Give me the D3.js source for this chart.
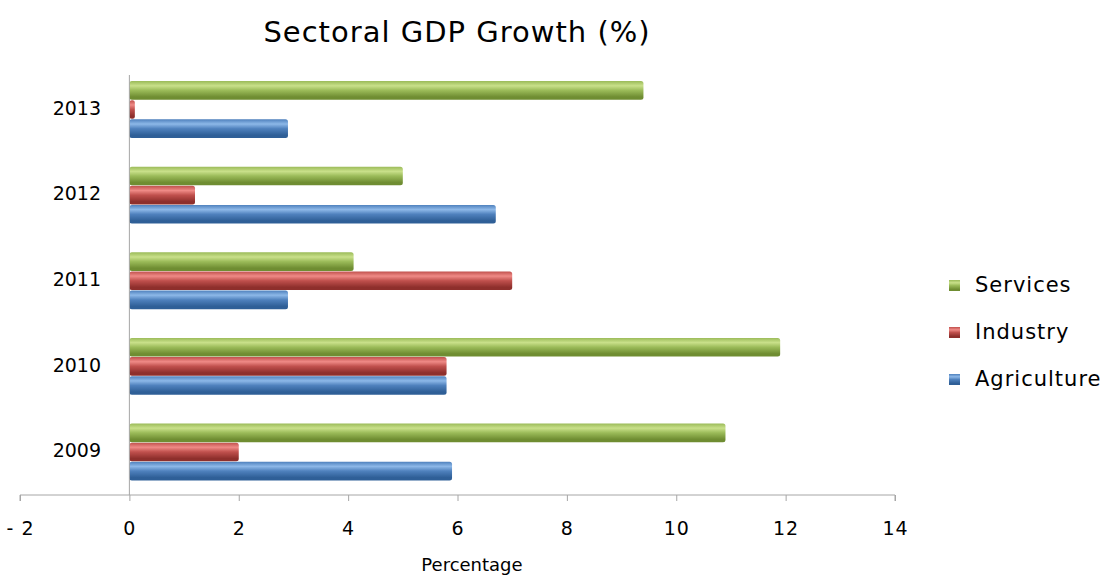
<!DOCTYPE html>
<html><head><meta charset="utf-8">
<script src="https://cdn.jsdelivr.net/npm/d3@7"></script>
<style>body{margin:0;background:#fff}svg{display:block}</style>
</head><body>
<svg id="chart" width="1119" height="579"></svg>
<script>
const years = ["2009","2010","2011","2012","2013"];
const seriesNames = ["Agriculture","Industry","Services"];
const agriculture = [5.9, 5.8, 2.9, 6.7, 2.9];
const industry = [2.0, 5.8, 7.0, 1.2, 0.1];
const services = [10.9, 11.9, 4.1, 5.0, 9.4];
const xTicks = [-2,0,2,4,6,8,10,12,14];
const colors = {Agriculture:"#4f81bd", Industry:"#c0504d", Services:"#9bbb59"};
const dark = {Agriculture:"#2f5f97", Industry:"#8e2f2c", Services:"#6f8d32"};
const light = {Agriculture:"#8db8e8", Industry:"#ef8a86", Services:"#c9e08a"};

const svg = d3.select("#chart");
const font = "'DejaVu Sans', sans-serif";
const values = {Agriculture:agriculture, Industry:industry, Services:services};

const x = d3.scaleLinear().domain([-2,14]).range([20,895]);
const y = d3.scaleBand().domain(years.slice().reverse()).range([67,495]).paddingInner(0.33).paddingOuter(0.165);
const ySub = d3.scaleBand().domain(seriesNames.slice().reverse()).range([0,y.bandwidth()]);

const defs = svg.append("defs");
seriesNames.forEach(s=>{
  const g = defs.append("linearGradient").attr("id","g"+s).attr("x1",0).attr("y1",0).attr("x2",0).attr("y2",1);
  g.append("stop").attr("offset","0%").attr("stop-color",colors[s]);
  g.append("stop").attr("offset","25%").attr("stop-color",light[s]);
  g.append("stop").attr("offset","50%").attr("stop-color",colors[s]);
  g.append("stop").attr("offset","85%").attr("stop-color",dark[s]);
  g.append("stop").attr("offset","100%").attr("stop-color",dark[s]);
});

// title
svg.append("text").attr("x",457).attr("y",42).attr("text-anchor","middle")
  .attr("font-family",font).attr("font-size",29).attr("letter-spacing",1).attr("fill","#000").text("Sectoral GDP Growth (%)");

// bars
const rows = [];
years.forEach((yr,i)=>seriesNames.forEach(s=>rows.push({yr,s,v:values[s][i]})));
svg.append("g").selectAll("rect").data(rows).join("rect")
  .attr("x",d=>x(Math.min(0,d.v)))
  .attr("y",d=>y(d.yr)+ySub(d.s))
  .attr("width",d=>Math.abs(x(d.v)-x(0)))
  .attr("height",ySub.bandwidth()-0.5)
  .attr("rx",2.5)
  .attr("fill",d=>"url(#g"+d.s+")");

// x axis
const xAxis = d3.axisBottom(x).tickValues(xTicks).tickSize(6).tickFormat(d=>d<0?"- "+Math.abs(d):d);
const gx = svg.append("g").attr("transform","translate(0,495)").call(xAxis);
gx.select(".domain").attr("stroke","#a6a6a6").attr("d","M20,6V0H895V6");
gx.selectAll(".tick line").attr("stroke","#a6a6a6");
gx.selectAll(".tick text").attr("font-family",font).attr("font-size",19).attr("letter-spacing",1).attr("fill","#000").attr("dy","1.65em");

// y axis
svg.append("line").attr("x1",x(0)).attr("x2",x(0)).attr("y1",75).attr("y2",495).attr("stroke","#a6a6a6");
svg.append("g").selectAll("text").data(years).join("text")
  .attr("x",101).attr("y",d=>y(d)+y.bandwidth()/2+5).attr("text-anchor","end")
  .attr("font-family",font).attr("font-size",19).attr("fill","#000").text(d=>d);

// axis title
svg.append("text").attr("x",472).attr("y",571).attr("text-anchor","middle")
  .attr("font-family",font).attr("font-size",18).attr("fill","#000").text("Percentage");

// legend
const leg = svg.append("g").selectAll("g").data(seriesNames.slice().reverse()).join("g")
  .attr("transform",(d,i)=>`translate(949,${285+i*47})`);
leg.append("rect").attr("x",0).attr("y",-5).attr("width",11).attr("height",11).attr("fill",d=>"url(#g"+d+")");
leg.append("text").attr("x",26).attr("y",7).attr("font-family",font).attr("font-size",21).attr("letter-spacing",1).attr("fill","#000").text(d=>d);
</script>
</body></html>
